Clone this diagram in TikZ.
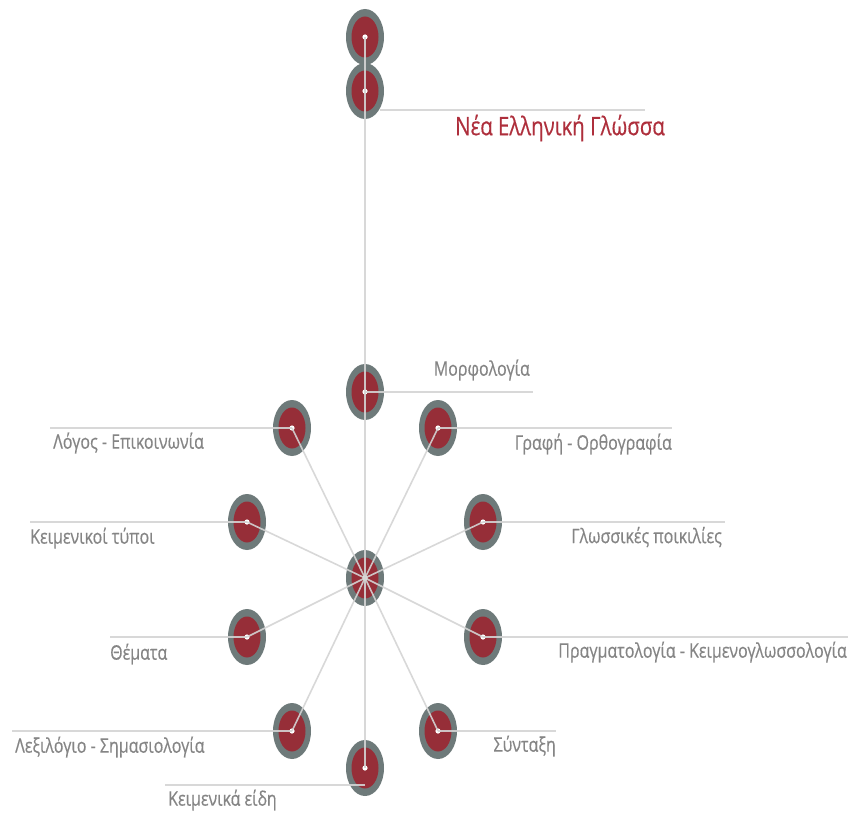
\documentclass[tikz,border=0pt]{standalone}
\usepackage{fontspec}
\setmainfont{Open Sans}[FakeStretch=0.8,FakeBold=0.4]
\usetikzlibrary{shapes.geometric}
\definecolor{outergray}{HTML}{6E7A7A}
\definecolor{innerred}{HTML}{962E38}
\definecolor{linegray}{HTML}{D4D4D4}
\definecolor{txtgray}{HTML}{858585}
\definecolor{titlered}{HTML}{AE2F3C}
\tikzset{
  bubble/.style={ellipse, draw=none, fill=outergray, minimum width=38pt, minimum height=56pt, inner sep=0pt,
    path picture={\fill[innerred] (path picture bounding box.center) ellipse (13.5pt and 20.5pt);
                  \fill[white] (path picture bounding box.center) circle (2.6pt);}},
  conn/.style={draw=linegray, line width=1.6pt, opacity=0.9},
  hline/.style={draw=linegray, line width=2pt, opacity=0.9},
  lbl/.style={text=txtgray, font=\fontsize{20}{22}\selectfont, inner sep=0pt},
  ttl/.style={text=titlered, font=\fontsize{25.5}{28}\selectfont, inner sep=0pt}
}
\begin{document}
\begin{tikzpicture}[x=1pt,y=-1pt]
\useasboundingbox (0,0) rectangle (850,813);
% nodes
\node[bubble] (t1) at (365,37) {};
\node[bubble] (t2) at (365,91) {};
\node[bubble] (ctr) at (365,578) {};
\node[bubble] (morf) at (365,392) {};
\node[bubble] (graf) at (438,428) {};
\node[bubble] (glos) at (483,522) {};
\node[bubble] (prag) at (483,637) {};
\node[bubble] (synt) at (438,731) {};
\node[bubble] (eidi) at (365,768) {};
\node[bubble] (lexi) at (292,731) {};
\node[bubble] (them) at (247,637) {};
\node[bubble] (typo) at (247,522) {};
\node[bubble] (logo) at (292,428) {};
% free ends
\coordinate (t2L) at (380,110);
\coordinate (t2R) at (645,110);
\coordinate (morfR) at (533,392);
\coordinate (grafR) at (672,428);
\coordinate (glosR) at (725,522);
\coordinate (pragR) at (848,637);
\coordinate (syntR) at (556,731);
\coordinate (eidiR) at (365,785);
\coordinate (eidiL) at (165,785);
\coordinate (lexiL) at (12,731);
\coordinate (themL) at (110,637);
\coordinate (typoL) at (30,522);
\coordinate (logoL) at (50,428);
% connectors
\draw[conn] (t1.center) -- (t2.center);
\draw[conn] (t2.center) -- (eidi.center);
\foreach \n in {graf,glos,prag,synt,lexi,them,typo,logo}
  \draw[conn] (ctr.center) -- (\n.center);
\draw[hline] (t2L) -- (t2R);
\draw[hline] (morf.center) -- (morfR);
\draw[hline] (graf.center) -- (grafR);
\draw[hline] (glos.center) -- (glosR);
\draw[hline] (prag.center) -- (pragR);
\draw[hline] (synt.center) -- (syntR);
\draw[hline] (eidiR) -- (eidiL);
\draw[hline] (lexi.center) -- (lexiL);
\draw[hline] (them.center) -- (themL);
\draw[hline] (typo.center) -- (typoL);
\draw[hline] (logo.center) -- (logoL);
% labels
\node[ttl, anchor=east] (ttlt) at (665,128) {Νέα Ελληνική Γλώσσα};
\node[lbl, anchor=east] (morft) at (530,370) {Μορφολογία};
\node[lbl, anchor=east] (graft) at (672,444) {Γραφή - Ορθογραφία};
\node[lbl, anchor=east] (glost) at (722,537) {Γλωσσικές ποικιλίες};
\node[lbl, anchor=east] (pragt) at (847,652) {Πραγματολογία - Κειμενογλωσσολογία};
\node[lbl, anchor=east] (syntt) at (556,746) {Σύνταξη};
\node[lbl, anchor=west] (eidit) at (168,800) {Κειμενικά είδη};
\node[lbl, anchor=west] (lexit) at (15,747) {Λεξιλόγιο - Σημασιολογία};
\node[lbl, anchor=west] (themt) at (110,654) {Θέματα};
\node[lbl, anchor=west] (typot) at (30,538) {Κειμενικοί τύποι};
\node[lbl, anchor=west] (logot) at (53,443) {Λόγος - Επικοινωνία};
\end{tikzpicture}
\end{document}
